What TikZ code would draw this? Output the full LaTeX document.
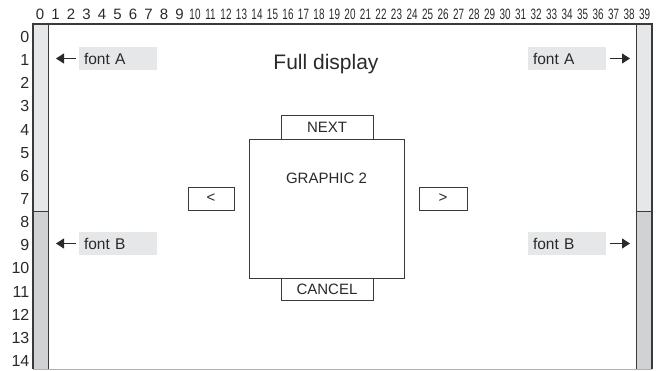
\documentclass[tikz,border=0pt]{standalone}
\usepackage{fontspec}
\setmainfont{Liberation Sans}
\usetikzlibrary{arrows.meta}
\definecolor{frameline}{HTML}{3A3A3A}
\definecolor{lightfill}{HTML}{E6E7E8}
\definecolor{darkfill}{HTML}{D1D2D4}
\definecolor{txt}{HTML}{2A2A2A}
\begin{document}
\begin{tikzpicture}[x=1pt,y=-1pt,
  txtstyle/.style={text=txt,inner sep=0pt},
  colnum/.style={txtstyle,font=\fontsize{15}{15}\selectfont},
  rownum/.style={txtstyle,font=\fontsize{16}{16}\selectfont,anchor=east},
  fontlabel/.style={fill=lightfill,draw=none,minimum width=78pt,minimum height=23pt,
     inner sep=0pt,text=txt,font=\fontsize{15.5}{15.5}\selectfont,align=left,text width=68pt},
  btn/.style={draw=frameline,line width=0.9pt,fill=white,inner sep=0pt,text=txt,
     font=\fontsize{15}{15}\selectfont},
  arr/.style={-{Triangle[length=8pt,width=10pt]},line width=1.1pt,draw=txt}
]
\useasboundingbox (0,0) rectangle (658,371);
% sidebars
\fill[lightfill] (33,24) rectangle (48.5,211);
\fill[darkfill] (33,211) rectangle (48.5,369);
\fill[lightfill] (636.5,24) rectangle (652,211);
\fill[darkfill] (636.5,211) rectangle (652,369);
\draw[frameline,line width=0.9pt] (33,211) -- (48.5,211);
\draw[frameline,line width=0.9pt] (636.5,211) -- (652,211);
\draw[frameline,line width=1.2pt] (48.5,24) -- (48.5,369);
\draw[frameline,line width=1.2pt] (636.5,24) -- (636.5,369);
% outer frame
\draw[frameline,line width=1.2pt] (33,369) -- (33,24) -- (652,24) -- (652,369);
\draw[gray!60,line width=1pt] (33,369.5) -- (652,369.5);
% column numbers
\foreach \i in {0,...,9} {
  \node[colnum] (c\i) at ({40+15.5*\i},14) {\i};
}
\foreach \i in {10,...,39} {
  \node[colnum] (c\i) at ({40+15.5*\i},14) {\scalebox{0.66}[1]{\i}};
}
% row numbers
\foreach \j in {0,...,14} {
  \node[rownum] (r\j) at (29.5,{37+23.14*\j}) {\j};
}
% title
\node[txtstyle,font=\fontsize{21}{21}\selectfont] (title) at (326,64) {Full display};
% font labels
\node[fontlabel] (fAL) at (118,58.5) {font A};
\node[fontlabel] (fBL) at (118,243.5) {font B};
\node[fontlabel] (fAR) at (567,58.5) {font A};
\node[fontlabel] (fBR) at (567,243.5) {font B};
\coordinate (aAL) at (56,58.5);
\coordinate (aBL) at (56,243.5);
\coordinate (aAR) at (630,58.5);
\coordinate (aBR) at (630,243.5);
\draw[arr] ([xshift=-3pt]fAL.west) -- (aAL);
\draw[arr] ([xshift=-3pt]fBL.west) -- (aBL);
\draw[arr] ([xshift=4pt]fAR.east) -- (aAR);
\draw[arr] ([xshift=4pt]fBR.east) -- (aBR);
% central screen
\node[btn,minimum width=155pt,minimum height=139pt] (graphic) at (326.5,208.5) {};
\node[txtstyle,font=\fontsize{15}{15}\selectfont] (gtext) at (326.5,178) {GRAPHIC 2};
\node[btn,minimum width=92pt,minimum height=24pt] (next) at (327,127) {NEXT};
\node[btn,minimum width=92pt,minimum height=22pt] (cancel) at (327,289) {CANCEL};
\node[btn,minimum width=46pt,minimum height=23pt] (prev) at (211,198.5) {<};
\node[btn,minimum width=48pt,minimum height=23pt] (nextarrow) at (443,198.5) {>};
\end{tikzpicture}
\end{document}
